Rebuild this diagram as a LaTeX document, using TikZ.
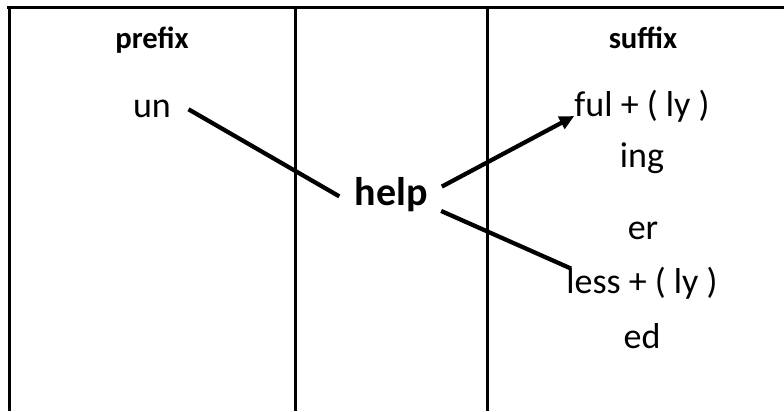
\documentclass[tikz,border=0pt]{standalone}
\usepackage{fontspec}
\setmainfont{Carlito}
\usetikzlibrary{arrows.meta}

\begin{document}
\begin{tikzpicture}[x=0.75pt, y=-0.75pt,
    every node/.style={inner sep=0pt, anchor=base},
    word/.style={font=\fontsize{27}{30}\selectfont},
    head/.style={font=\bfseries\fontsize{23}{26}\selectfont},
    stem/.style={font=\bfseries\fontsize{30}{34}\selectfont},
    rule/.style={line width=2.2pt},
    link/.style={line width=3.2pt}]
                \useasboundingbox (0,0) rectangle (784,411);

                % Table frame
                \draw[rule] (7,7.5) -- (784,7.5);
                \draw[rule] (9.5,6) -- (9.5,411);
                \draw[line width=2pt] (295.5,7.5) -- (295.5,411);
                \draw[line width=2pt] (487.5,7.5) -- (487.5,411);

                % Headings
                \node[head] (pre) at (152,48) {prefix};
                \node[head] (suf) at (643,48) {suffix};

                % Prefix and stem
                \node[word] (un) at (152,117) {un};
                \node[stem] (help) at (391,205) {help};

                % Suffixes
                \node[word] (ful) at (642,116) {ful + ( ly )};
                \node[word] (ing) at (642,167) {ing};
                \node[word] (er) at (643,239) {er};
                \node[word] (less) at (642,293) {less + ( ly )};
                \node[word] (ed) at (642,348) {ed};

                % Links
                \draw[link, shorten <=15pt, shorten >=13pt] (un.north east) -- (help.base west);
                \draw[link, -{Triangle[length=11pt, width=10pt]}, shorten <=12pt] (help.east) -- (ful.base west);
                \draw[link, shorten <=11pt, shorten >=-4pt] (help.base east) -- (less.north west);
            \end{tikzpicture}
\end{document}
